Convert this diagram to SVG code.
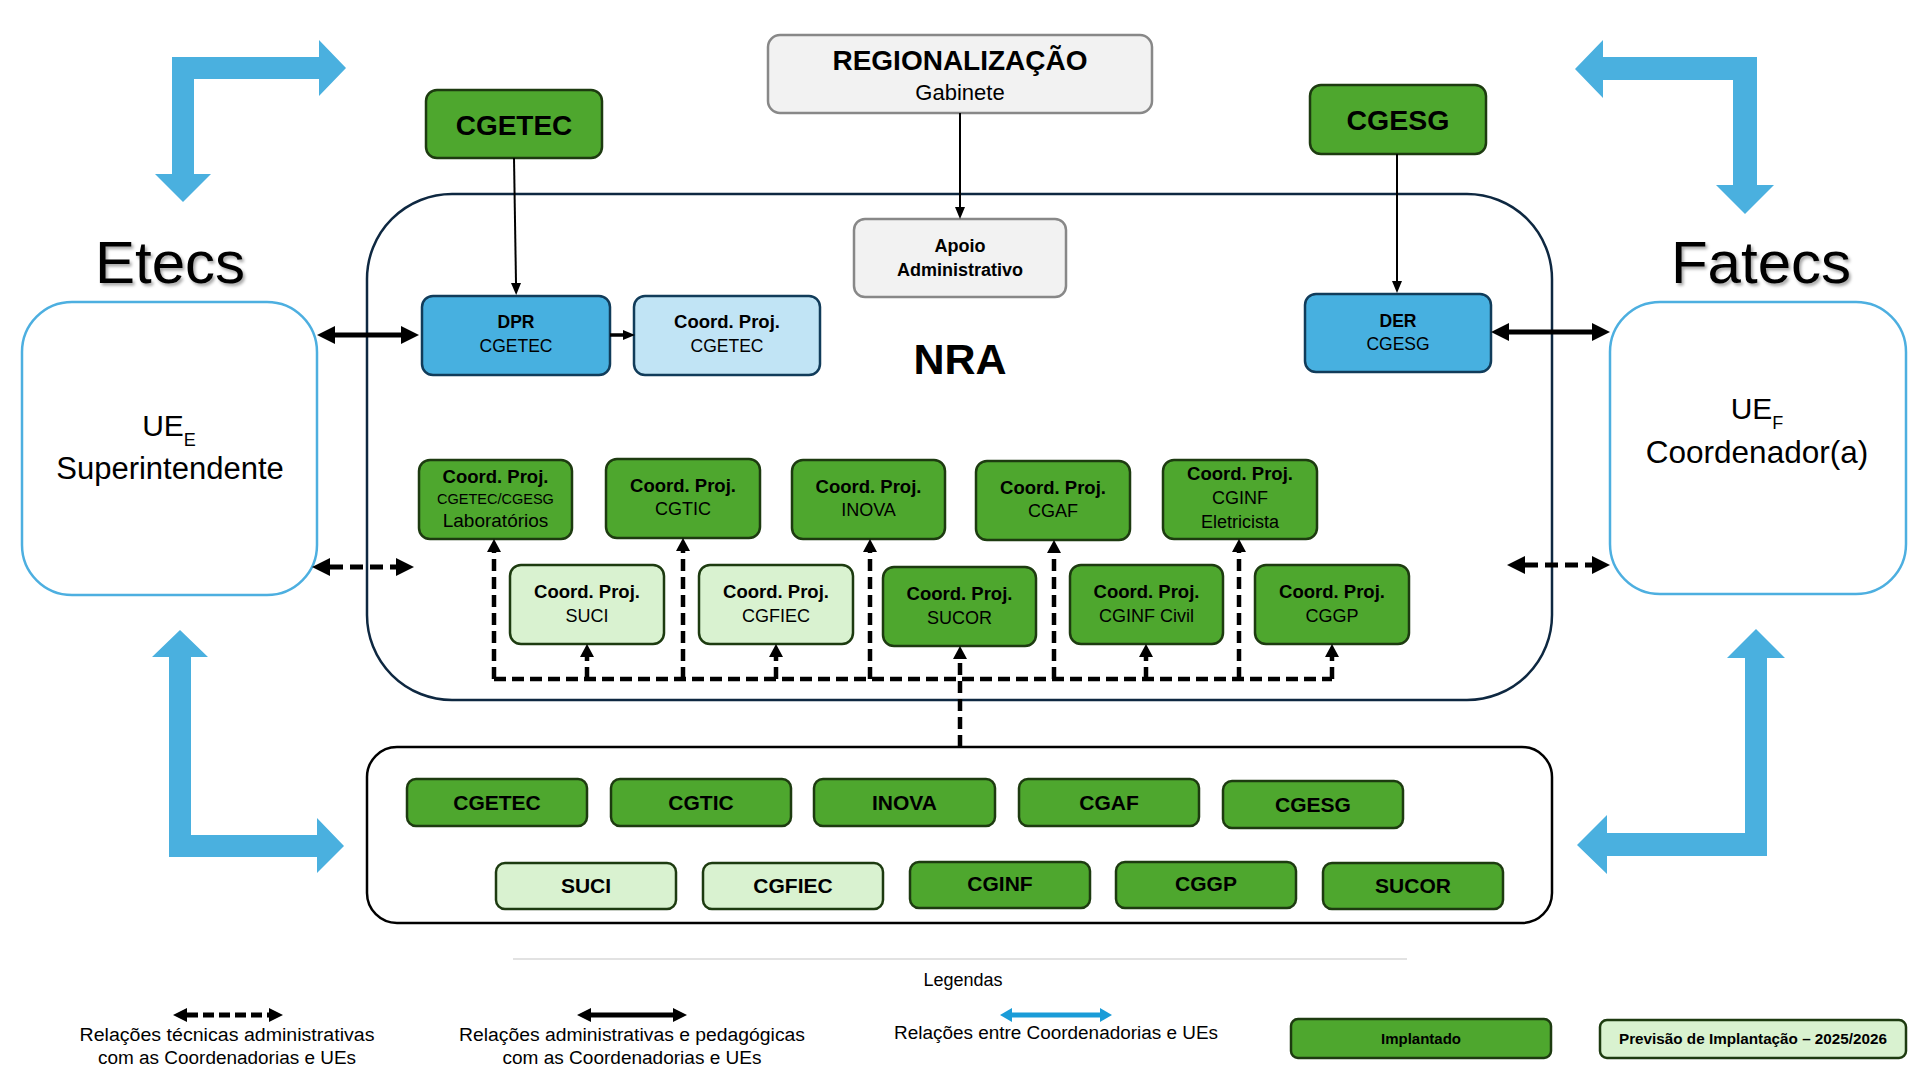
<svg xmlns="http://www.w3.org/2000/svg" width="1920" height="1080" viewBox="0 0 1920 1080">
<defs>
<style>
text{font-family:"Liberation Sans",Arial,sans-serif;fill:#000}
.b{font-weight:bold}
.m{text-anchor:middle}
.g{fill:#4EA72E;stroke:#1D3B10;stroke-width:2.5}
.lg{fill:#D9F2D0;stroke:#1D3B10;stroke-width:2.5}
.bl{fill:#47B0E0;stroke:#113C5A;stroke-width:2.5}
.lb{fill:#C1E4F5;stroke:#113C5A;stroke-width:2.5}
.gr{fill:#F2F2F2;stroke:#888;stroke-width:2.5}
.ue{fill:#fff;stroke:#4DAFE0;stroke-width:2.5}
.bigarrow{fill:#4AB0DF}
.thin{stroke:#000;stroke-width:2;fill:none;marker-end:url(#ah)}
.dc{stroke:#000;stroke-width:4.5;fill:none;stroke-dasharray:12 6}
.dcv{stroke:#000;stroke-width:4.5;fill:none;stroke-dasharray:12 6;marker-end:url(#dh)}
.thick{stroke:#000;stroke-width:5;fill:none;marker-start:url(#th);marker-end:url(#th)}
.thickd{stroke:#000;stroke-width:5;fill:none;stroke-dasharray:13 7;marker-start:url(#th);marker-end:url(#th)}
.t18{font-size:18px}
.leg{font-size:18px}
</style>
<marker id="ah" markerUnits="userSpaceOnUse" markerWidth="12" markerHeight="12" refX="0" refY="5" orient="auto-start-reverse" overflow="visible"><path d="M0,0 L12,5 L0,10 z" fill="#000"/></marker>
<marker id="th" markerUnits="userSpaceOnUse" markerWidth="18" markerHeight="18" refX="0" refY="9" orient="auto-start-reverse" overflow="visible"><path d="M0,0 L18,9 L0,18 z" fill="#000"/></marker>
<marker id="dh" markerUnits="userSpaceOnUse" markerWidth="13" markerHeight="14" refX="0" refY="7" orient="auto-start-reverse" overflow="visible"><path d="M0,0 L13,7 L0,14 z" fill="#000"/></marker>
<marker id="lh" markerUnits="userSpaceOnUse" markerWidth="14" markerHeight="14" refX="0" refY="7" orient="auto-start-reverse" overflow="visible"><path d="M0,0 L14,7 L0,14 z" fill="#000"/></marker>
<marker id="bh" markerUnits="userSpaceOnUse" markerWidth="12" markerHeight="14" refX="0" refY="7" orient="auto-start-reverse" overflow="visible"><path d="M0,0 L12,7 L0,14 z" fill="#1A9CD8"/></marker>
<filter id="sh" x="-10%" y="-20%" width="130%" height="150%"><feDropShadow dx="2" dy="2.5" stdDeviation="1.5" flood-color="#000" flood-opacity="0.35"/></filter>
</defs>
<rect width="1920" height="1080" fill="#fff"/>

<!-- containers -->
<g id="nra-container">
<rect x="367" y="194" width="1185" height="506" rx="85" ry="85" fill="none" stroke="#0E2841" stroke-width="2.5"/>
<text class="b m" x="960" y="374" font-size="43">NRA</text>
</g>
<g id="coord-container">
<rect x="367" y="747" width="1185" height="176" rx="30" ry="30" fill="none" stroke="#000" stroke-width="2.5"/>
</g>

<!-- big blue arrows -->
<g id="blue-arrows">
<polygon class="bigarrow" points="172,57 319,57 319,40 346,68 319,96 319,79 194,79 194,174 211,174 183,202 155,174 172,174"/>
<polygon class="bigarrow" points="1757,57 1603,57 1603,40 1575,69 1603,98 1603,80 1733,80 1733,185 1716,185 1745,214 1774,185 1757,185"/>
<polygon class="bigarrow" points="180,630 208,657 191,657 191,835 317,835 317,818 344,846 317,873 317,857 169,857 169,657 152,657"/>
<polygon class="bigarrow" points="1756,629 1785,658 1767,658 1767,856 1607,856 1607,874 1577,845 1607,815 1607,833 1745,833 1745,658 1727,658"/>
</g>

<!-- UE side nodes -->
<g id="etecs">
<text x="170" y="283" class="m" font-size="60" filter="url(#sh)">Etecs</text>
<rect class="ue" x="22" y="302" width="295" height="293" rx="50" ry="50"/>
<text x="169" y="436" class="m" font-size="30">UE<tspan font-size="18" dy="10">E</tspan></text>
<text x="170" y="479" class="m" font-size="31">Superintendente</text>
</g>
<g id="fatecs">
<text x="1761" y="283" class="m" font-size="60" filter="url(#sh)">Fatecs</text>
<rect class="ue" x="1610" y="302" width="296" height="292" rx="50" ry="50"/>
<text x="1757" y="419" class="m" font-size="30">UE<tspan font-size="18" dy="10">F</tspan></text>
<text x="1757" y="463" class="m" font-size="31.5">Coordenador(a)</text>
</g>

<!-- top nodes -->
<g id="regionalizacao">
<rect class="gr" x="768" y="35" width="384" height="78" rx="12" ry="12"/>
<text class="b m" x="960" y="70" font-size="28">REGIONALIZAÇÃO</text>
<text class="m" x="960" y="100" font-size="22">Gabinete</text>
</g>
<g id="cgetec-top">
<rect class="g" x="426" y="90" width="176" height="68" rx="11" ry="11"/>
<text class="b m" x="514" y="135" font-size="28">CGETEC</text>
</g>
<g id="cgesg-top">
<rect class="g" x="1310" y="85" width="176" height="69" rx="11" ry="11"/>
<text class="b m" x="1398" y="130" font-size="28.5">CGESG</text>
</g>
<g id="apoio">
<rect class="gr" x="854" y="219" width="212" height="78" rx="11" ry="11"/>
<text class="b m t18" x="960" y="252">Apoio</text>
<text class="b m t18" x="960" y="276">Administrativo</text>
</g>
<g id="dpr">
<rect class="bl" x="422" y="296" width="188" height="79" rx="11" ry="11"/>
<text class="b m" x="516" y="328" font-size="17.5">DPR</text>
<text class="m" x="516" y="352" font-size="17.5">CGETEC</text>
</g>
<g id="coord-cgetec">
<rect class="lb" x="634" y="296" width="186" height="79" rx="11" ry="11"/>
<text class="b m" x="727" y="328" font-size="18.5">Coord. Proj.</text>
<text class="m" x="727" y="352" font-size="17.5">CGETEC</text>
</g>
<g id="der">
<rect class="bl" x="1305" y="294" width="186" height="78" rx="11" ry="11"/>
<text class="b m" x="1398" y="327" font-size="17.5">DER</text>
<text class="m" x="1398" y="350" font-size="17.5">CGESG</text>
</g>

<!-- coord proj nodes -->
<g id="cp-lab">
<rect class="g" x="419" y="460" width="153" height="79" rx="11" ry="11"/>
<text class="b m" x="495.5" y="483" font-size="18.5">Coord. Proj.</text>
<text class="m" x="495.5" y="504" font-size="14.5">CGETEC/CGESG</text>
<text class="m" x="495.5" y="527" font-size="19">Laboratórios</text>
</g>
<g id="cp-cgtic">
<rect class="g" x="606" y="459" width="154" height="79" rx="11" ry="11"/>
<text class="b m" x="683" y="492" font-size="18.5">Coord. Proj.</text>
<text class="m" x="683" y="515" font-size="18">CGTIC</text>
</g>
<g id="cp-inova">
<rect class="g" x="792" y="460" width="153" height="79" rx="11" ry="11"/>
<text class="b m" x="868.5" y="493" font-size="18.5">Coord. Proj.</text>
<text class="m" x="868.5" y="516" font-size="18">INOVA</text>
</g>
<g id="cp-cgaf">
<rect class="g" x="976" y="461" width="154" height="79" rx="11" ry="11"/>
<text class="b m" x="1053" y="494" font-size="18.5">Coord. Proj.</text>
<text class="m" x="1053" y="517" font-size="18">CGAF</text>
</g>
<g id="cp-cginf-elet">
<rect class="g" x="1163" y="460" width="154" height="79" rx="11" ry="11"/>
<text class="b m" x="1240" y="480" font-size="18.5">Coord. Proj.</text>
<text class="m" x="1240" y="504" font-size="18">CGINF</text>
<text class="m" x="1240" y="528" font-size="18">Eletricista</text>
</g>
<g id="cp-suci">
<rect class="lg" x="510" y="565" width="154" height="79" rx="11" ry="11"/>
<text class="b m" x="587" y="598" font-size="18.5">Coord. Proj.</text>
<text class="m" x="587" y="622" font-size="18">SUCI</text>
</g>
<g id="cp-cgfiec">
<rect class="lg" x="699" y="565" width="154" height="79" rx="11" ry="11"/>
<text class="b m" x="776" y="598" font-size="18.5">Coord. Proj.</text>
<text class="m" x="776" y="622" font-size="18">CGFIEC</text>
</g>
<g id="cp-sucor">
<rect class="g" x="883" y="567" width="153" height="79" rx="11" ry="11"/>
<text class="b m" x="959.5" y="600" font-size="18.5">Coord. Proj.</text>
<text class="m" x="959.5" y="624" font-size="18">SUCOR</text>
</g>
<g id="cp-cginf-civil">
<rect class="g" x="1070" y="565" width="153" height="79" rx="11" ry="11"/>
<text class="b m" x="1146.5" y="598" font-size="18.5">Coord. Proj.</text>
<text class="m" x="1146.5" y="622" font-size="18">CGINF Civil</text>
</g>
<g id="cp-cggp">
<rect class="g" x="1255" y="565" width="154" height="79" rx="11" ry="11"/>
<text class="b m" x="1332" y="598" font-size="18.5">Coord. Proj.</text>
<text class="m" x="1332" y="622" font-size="18">CGGP</text>
</g>

<!-- coordenadorias -->
<g id="c-cgetec"><rect class="g" x="407" y="779" width="180" height="47" rx="9" ry="9"/><text class="b m" x="497" y="810" font-size="21">CGETEC</text></g>
<g id="c-cgtic"><rect class="g" x="611" y="779" width="180" height="47" rx="9" ry="9"/><text class="b m" x="701" y="810" font-size="21">CGTIC</text></g>
<g id="c-inova"><rect class="g" x="814" y="779" width="181" height="47" rx="9" ry="9"/><text class="b m" x="904.5" y="810" font-size="21">INOVA</text></g>
<g id="c-cgaf"><rect class="g" x="1019" y="779" width="180" height="47" rx="9" ry="9"/><text class="b m" x="1109" y="810" font-size="21">CGAF</text></g>
<g id="c-cgesg"><rect class="g" x="1223" y="781" width="180" height="47" rx="9" ry="9"/><text class="b m" x="1313" y="812" font-size="21">CGESG</text></g>
<g id="c-suci"><rect class="lg" x="496" y="863" width="180" height="46" rx="9" ry="9"/><text class="b m" x="586" y="893" font-size="21">SUCI</text></g>
<g id="c-cgfiec"><rect class="lg" x="703" y="863" width="180" height="46" rx="9" ry="9"/><text class="b m" x="793" y="893" font-size="21">CGFIEC</text></g>
<g id="c-cginf"><rect class="g" x="910" y="862" width="180" height="46" rx="9" ry="9"/><text class="b m" x="1000" y="891" font-size="21">CGINF</text></g>
<g id="c-cggp"><rect class="g" x="1116" y="862" width="180" height="46" rx="9" ry="9"/><text class="b m" x="1206" y="891" font-size="21">CGGP</text></g>
<g id="c-sucor"><rect class="g" x="1323" y="863" width="180" height="46" rx="9" ry="9"/><text class="b m" x="1413" y="893" font-size="21">SUCOR</text></g>

<!-- connectors -->
<g id="connectors">
<path class="thin" d="M514,158 L516,283"/>
<path class="thin" d="M960,113 L960,207"/>
<path class="thin" d="M1397,154 L1397,281"/>
<path d="M610,335 L623,335" stroke="#000" stroke-width="3.5" fill="none" marker-end="url(#ah)"/>
<path class="thick" d="M335,335 L401,335"/>
<path class="thick" d="M1509,332 L1592,332"/>
<path class="thickd" d="M330,567 L396,567"/>
<path class="thickd" d="M1525,565 L1592,565"/>
<path class="dc" d="M494,679 L1332,679"/>
<path class="dcv" d="M494,679 L494,552"/>
<path class="dcv" d="M587,679 L587,657"/>
<path class="dcv" d="M683,679 L683,551"/>
<path class="dcv" d="M776,679 L776,657"/>
<path class="dcv" d="M870,679 L870,552"/>
<path class="dcv" d="M960,747 L960,659"/>
<path class="dcv" d="M1054,679 L1054,553"/>
<path class="dcv" d="M1146,679 L1146,657"/>
<path class="dcv" d="M1239,679 L1239,552"/>
<path class="dcv" d="M1332,679 L1332,657"/>
</g>

<!-- legend -->
<g id="legend">
<line x1="513" y1="959" x2="1407" y2="959" stroke="#D9D9D9" stroke-width="1.5"/>
<text class="m leg" x="963" y="986">Legendas</text>
<path d="M187,1015 L269,1015" stroke="#000" stroke-width="5" stroke-dasharray="11 5" fill="none" marker-start="url(#lh)" marker-end="url(#lh)"/>
<text class="m leg" x="227" y="1041" textLength="295" lengthAdjust="spacingAndGlyphs">Relações técnicas administrativas</text>
<text class="m leg" x="227" y="1064" textLength="258" lengthAdjust="spacingAndGlyphs">com as Coordenadorias e UEs</text>
<path d="M591,1015 L673,1015" stroke="#000" stroke-width="5" fill="none" marker-start="url(#lh)" marker-end="url(#lh)"/>
<text class="m leg" x="632" y="1041" textLength="346" lengthAdjust="spacingAndGlyphs">Relações administrativas e pedagógicas</text>
<text class="m leg" x="632" y="1064" textLength="259" lengthAdjust="spacingAndGlyphs">com as Coordenadorias e UEs</text>
<path d="M1012,1015 L1100,1015" stroke="#1A9CD8" stroke-width="5" fill="none" marker-start="url(#bh)" marker-end="url(#bh)"/>
<text class="m leg" x="1056" y="1039" textLength="324" lengthAdjust="spacingAndGlyphs">Relações entre Coordenadorias e UEs</text>
<rect class="g" x="1291" y="1019" width="260" height="39" rx="7" ry="7"/>
<text class="b m" x="1421" y="1044" font-size="15">Implantado</text>
<rect class="lg" x="1600" y="1020" width="306" height="38" rx="7" ry="7"/>
<text class="b m" x="1753" y="1044" font-size="15" textLength="268" lengthAdjust="spacingAndGlyphs">Previsão de Implantação – 2025/2026</text>
</g>
</svg>
